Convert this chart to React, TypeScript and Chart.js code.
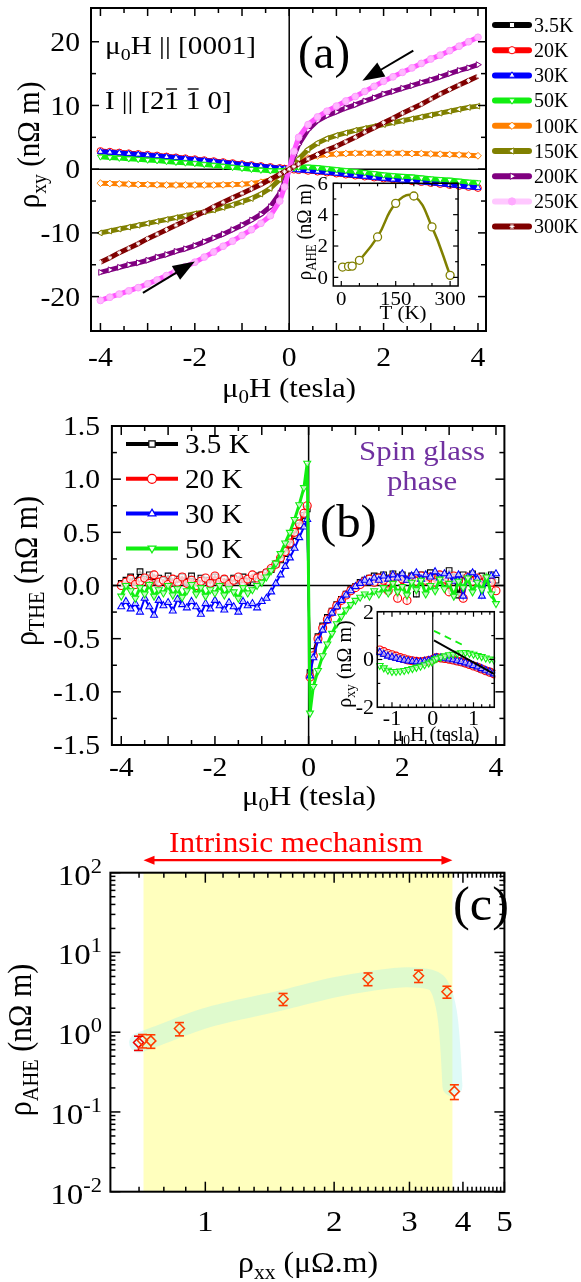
import React, { useEffect, useRef } from "react";
import { Chart, registerables } from "chart.js";

Chart.register(...registerables);

const PAGE_W = 581;
const PAGE_H = 1282;
const SERIF = '"Liberation Serif", "Times New Roman", serif';

/* ---------------- panel (a): rho_xy vs field ---------------- */
const H_A = [
  -4.0, -3.8, -3.6, -3.4, -3.2, -3.0, -2.8, -2.6, -2.4, -2.2,
  -2.0, -1.8, -1.6, -1.4, -1.2, -1.0, -0.8, -0.6, -0.4, -0.2,
  -0.1, 0, 0.1,
  0.2, 0.4, 0.6, 0.8, 1.0, 1.2, 1.4, 1.6, 1.8, 2.0,
  2.2, 2.4, 2.6, 2.8, 3.0, 3.2, 3.4, 3.6, 3.8, 4.0,
];
const RHO_A_3K5 = [
  2.8, 2.7, 2.6, 2.45, 2.35, 2.2, 2.1, 1.95, 1.8, 1.65,
  1.5, 1.35, 1.2, 1.05, 0.9, 0.75, 0.6, 0.45, 0.3, 0.15,
  0.08, 0, -0.08,
  -0.15, -0.25, -0.36, -0.5, -0.66, -0.82, -0.98, -1.13, -1.28, -1.43,
  -1.58, -1.72, -1.86, -2.0, -2.14, -2.3, -2.45, -2.6, -2.75, -2.9,
];
const RHO_A_20K = [
  2.85, 2.75, 2.62, 2.5, 2.4, 2.27, 2.15, 2.0, 1.86, 1.72,
  1.57, 1.42, 1.27, 1.12, 0.96, 0.8, 0.65, 0.5, 0.35, 0.2,
  0.1, 0, -0.08,
  -0.16, -0.27, -0.39, -0.54, -0.7, -0.86, -1.02, -1.17, -1.32, -1.48,
  -1.62, -1.76, -1.9, -2.04, -2.18, -2.34, -2.5, -2.65, -2.8, -2.96,
];
const RHO_A_30K = [
  2.75, 2.65, 2.55, 2.44, 2.32, 2.2, 2.06, 1.94, 1.8, 1.65,
  1.5, 1.35, 1.2, 1.05, 0.9, 0.74, 0.6, 0.45, 0.3, 0.15,
  0.07, 0, -0.05,
  -0.12, -0.22, -0.35, -0.5, -0.66, -0.82, -0.98, -1.14, -1.3, -1.46,
  -1.6, -1.74, -1.88, -2.0, -2.14, -2.3, -2.45, -2.6, -2.75, -2.9,
];
const RHO_A_50K = [
  1.95, 1.85, 1.75, 1.65, 1.55, 1.45, 1.35, 1.22, 1.1, 1.0,
  0.9, 0.75, 0.6, 0.45, 0.3, 0.15, 0.0, -0.13, -0.23, -0.25,
  -0.15, 0, 0.2,
  0.35, 0.35, 0.25, 0.1, -0.05, -0.2, -0.35, -0.5, -0.68, -0.88,
  -1.0, -1.1, -1.2, -1.35, -1.5, -1.6, -1.7, -1.85, -2.0, -2.1,
];
const RHO_A_100K = [
  -2.2, -2.25, -2.3, -2.35, -2.4, -2.42, -2.45, -2.5, -2.5, -2.5,
  -2.5, -2.5, -2.5, -2.45, -2.4, -2.35, -2.25, -2.05, -1.7, -1.0,
  -0.5, 0, 0.5,
  1.0, 1.75, 2.1, 2.3, 2.4, 2.45, 2.5, 2.5, 2.5, 2.5,
  2.5, 2.5, 2.45, 2.45, 2.4, 2.35, 2.3, 2.25, 2.2, 2.1,
];
const RHO_A_150K = [
  -10.0, -9.7, -9.4, -9.1, -8.8, -8.5, -8.2, -7.9, -7.6, -7.3,
  -7.0, -6.7, -6.4, -6.0, -5.6, -5.1, -4.6, -3.9, -3.0, -1.6,
  -0.8, 0, 0.8,
  1.6, 3.1, 4.1, 4.8, 5.3, 5.7, 6.1, 6.4, 6.7, 7.0,
  7.3, 7.6, 7.9, 8.2, 8.5, 8.8, 9.1, 9.4, 9.7, 9.9,
];
const RHO_A_200K = [
  -16.2, -15.8, -15.4, -15.0, -14.7, -14.3, -13.8, -13.4, -12.9, -12.5,
  -12.0, -11.4, -10.8, -10.2, -9.5, -8.8, -8.0, -7.1, -5.9, -3.8,
  -2.1, 0, 2.1,
  3.9, 6.2, 7.6, 8.4, 9.0, 9.6, 10.1, 10.7, 11.2, 11.8,
  12.2, 12.7, 13.1, 13.6, 14.0, 14.5, 15.0, 15.5, 15.9, 16.4,
];
const RHO_A_250K = [
  -20.6, -20.1, -19.6, -19.1, -18.6, -18.0, -17.4, -16.7, -16.0, -15.3,
  -14.6, -13.8, -13.0, -12.1, -11.3, -10.4, -9.5, -8.5, -7.3, -5.0,
  -2.8, 0, 2.8,
  5.0, 7.0, 8.2, 9.1, 9.9, 10.7, 11.4, 12.2, 13.0, 13.8,
  14.5, 15.2, 15.9, 16.6, 17.3, 17.9, 18.6, 19.3, 20.0, 20.7,
];
const RHO_A_300K = [
  -14.6, -13.9, -13.1, -12.4, -11.7, -10.9, -10.2, -9.5, -8.8, -8.1,
  -7.4, -6.7, -5.9, -5.2, -4.5, -3.8, -3.1, -2.4, -1.6, -0.8,
  -0.4, 0, 0.4,
  0.8, 1.6, 2.3, 3.0, 3.6, 4.3, 5.0, 5.8, 6.5, 7.3,
  8.0, 8.8, 9.5, 10.2, 11.0, 11.8, 12.5, 13.2, 13.9, 14.6,
];
const LABELS_A = ["3.5K", "20K", "30K", "50K", "100K", "150K", "200K", "250K", "300K"];
const COLORS_A = ["#000000", "#ff0000", "#0000ff", "#11ee11", "#ff8000", "#808000", "#800080", "#ff55ff", "#800000"];
const LEGEND_COLORS_A = ["#000000", "#ff0000", "#0000ff", "#11ee11", "#ff8000", "#808000", "#800080", "#ffc8ff", "#800000"];
const MARKERS_A = ["rect", "circle", "triUp", "triDown", "diamond", "triLeft", "triRight", "circle", "star"];
const X_TICKS_A = [-4, -2, 0, 2, 4];
const Y_TICKS_A = [-20, -10, 0, 10, 20];
// annotation arrows (data coordinates): [fromH, fromRho, toH, toRho]
const ARROWS_A = [
  [2.63, 18.6, 1.55, 13.9],
  [-3.1, -19.4, -2.0, -14.5],
];

/* inset of (a): rho_AHE vs T */
const T_INSET = [3.5, 20, 30, 50, 100, 150, 200, 250, 300];
const RHO_AHE_T = [0.66, 0.7, 0.72, 1.09, 2.58, 4.72, 5.19, 3.22, 0.13];
const X_TICKS_AI = [0, 150, 300];
const Y_TICKS_AI = [0, 2, 4, 6];

/* ---------------- panel (b): rho_THE vs field ---------------- */
const H_B = [
  -4.0, -3.9, -3.8, -3.7, -3.6, -3.5, -3.4, -3.3, -3.2, -3.1,
  -3.0, -2.9, -2.8, -2.7, -2.6, -2.5, -2.4, -2.3, -2.2, -2.1,
  -2.0, -1.9, -1.8, -1.7, -1.6, -1.5, -1.4, -1.3, -1.2, -1.1,
  -1.0, -0.9, -0.8, -0.7, -0.6, -0.5, -0.4, -0.3, -0.2, -0.1,
  -0.03, 0.03,
  0.1, 0.2, 0.3, 0.4, 0.5, 0.6, 0.7, 0.8, 0.9, 1.0,
  1.1, 1.2, 1.3, 1.4, 1.5, 1.6, 1.7, 1.8, 1.9, 2.0,
  2.1, 2.2, 2.3, 2.4, 2.5, 2.6, 2.7, 2.8, 2.9, 3.0,
  3.1, 3.2, 3.3, 3.4, 3.5, 3.6, 3.7, 3.8, 3.9, 4.0,
];
const THE_3K5 = [
  0.02, 0.05, 0.08, 0.04, 0.13, 0.06, 0.1, 0.03, 0.07, 0.05,
  0.09, 0.02, 0.06, 0.08, 0.04, 0.09, 0.03, 0.07, 0.05, 0.02,
  0.08, 0.04, 0.06, 0.03, 0.07, 0.05, 0.08, 0.04, 0.06, 0.09,
  0.1, 0.12, 0.15, 0.2, 0.24, 0.3, 0.38, 0.47, 0.56, 0.66,
  0.72, -0.82,
  -0.62, -0.48, -0.38, -0.3, -0.24, -0.18, -0.13, -0.08, -0.04, -0.01,
  0.03, 0.05, 0.07, 0.09, 0.08, 0.1, 0.07, 0.11, 0.08, 0.1,
  0.06, 0.09, -0.08, 0.1, 0.07, 0.12, 0.08, 0.1, 0.06, 0.14,
  0.08, -0.09, 0.1, 0.07, 0.11, 0.06, 0.09, 0.07, 0.1, 0.05,
];
const THE_20K = [
  0.0, 0.03, 0.06, 0.01, 0.04, 0.07, 0.02, 0.1, 0.03, 0.05,
  0.01, 0.06, 0.03, 0.08, 0.02, 0.05, 0.0, 0.04, 0.07, 0.02,
  0.09, 0.03, 0.06, 0.01, 0.05, 0.08, 0.03, 0.06, 0.1, 0.07,
  0.09, 0.12, 0.16, 0.2, 0.26, 0.32, 0.4, 0.5, 0.58, 0.68,
  0.75, -0.86,
  -0.66, -0.5, -0.4, -0.32, -0.25, -0.19, -0.14, -0.09, -0.05, -0.02,
  0.01, 0.04, 0.06, 0.03, 0.07, 0.05, -0.05, 0.08, -0.12, 0.06,
  -0.14, 0.07, 0.04, 0.09, 0.05, 0.08, 0.03, 0.1, 0.06, -0.06,
  0.09, 0.05, -0.12, 0.08, 0.04, 0.07, 0.02, 0.06, 0.03, -0.05,
];
const THE_30K = [
  -0.2, -0.15, -0.22, -0.17, -0.25, -0.12, -0.2, -0.28, -0.14, -0.19,
  -0.16, -0.24, -0.13, -0.18, -0.21, -0.15, -0.2, -0.27, -0.17, -0.22,
  -0.14, -0.19, -0.23, -0.16, -0.2, -0.25, -0.15, -0.19, -0.17, -0.21,
  -0.15, -0.12, -0.06, 0.02, 0.1, 0.18, 0.26, 0.35, 0.45, 0.55,
  0.62, -0.85,
  -0.68, -0.52, -0.42, -0.33, -0.26, -0.2, -0.14, -0.09, -0.05, -0.01,
  0.02, 0.05, 0.03, 0.07, 0.05, 0.09, 0.06, 0.1, 0.07, 0.11,
  0.05, 0.09, 0.12, 0.06, 0.1, 0.08, 0.13, 0.07, 0.11, 0.09,
  0.04, 0.1, -0.1, 0.08, 0.12, 0.06, -0.1, 0.05, 0.09, 0.11,
];
const THE_50K = [
  -0.1, 0.0, -0.05, -0.12, -0.02, -0.08, 0.01, -0.1, -0.04, -0.07,
  0.0, -0.09, -0.03, -0.11, -0.05, 0.01, -0.08, -0.02, -0.1, -0.04,
  -0.07, 0.0, -0.09, -0.03, -0.06, -0.12, -0.02, -0.07, -0.04, 0.0,
  0.03, 0.08, 0.14, 0.21, 0.3, 0.4, 0.5, 0.62, 0.76, 0.92,
  1.15, -1.2,
  -0.95, -0.8, -0.66, -0.55, -0.45, -0.36, -0.29, -0.23, -0.18, -0.14,
  -0.11, -0.08, -0.1, -0.05, -0.08, -0.02, -0.07, 0.02, -0.06, -0.01,
  -0.09, 0.03, -0.04, 0.05, -0.08, 0.0, -0.05, 0.06, -0.03, 0.02,
  -0.1, 0.04, -0.02, 0.07, -0.06, 0.03, -0.04, 0.08, -0.08, -0.17,
];
const LABELS_B = ["3.5 K", "20 K", "30 K", "50 K"];
const COLORS_B = ["#000000", "#ff0000", "#0000ff", "#11ee11"];
const MARKERS_B = ["rect", "circle", "triUp", "triDown"];
const X_TICKS_B = [-4, -2, 0, 2, 4];
const Y_TICKS_B = [-1.5, -1, -0.5, 0, 0.5, 1, 1.5];

/* inset of (b): low-field rho_xy */
const H_BI = [
  -1.3, -1.2, -1.1, -1.0, -0.9, -0.8, -0.7, -0.6, -0.5, -0.4, -0.3, -0.2, -0.1, -0.02,
  0.05, 0.1, 0.2, 0.3, 0.4, 0.5, 0.6, 0.7, 0.8, 0.9, 1.0, 1.1, 1.2, 1.3, 1.4, 1.5,
];
const XY_I_3K5 = [0.32, 0.26, 0.2, 0.14, 0.09, 0.05, 0.01, -0.03, -0.06, -0.08, -0.09, -0.07, -0.03, 0.0,
  0.05, 0.07, 0.05, 0.03, 0.0, -0.03, -0.07, -0.11, -0.15, -0.2, -0.26, -0.32, -0.4, -0.46, -0.52, -0.58];
const XY_I_20K = [0.4, 0.33, 0.25, 0.2, 0.14, 0.08, 0.03, -0.02, -0.05, -0.08, -0.1, -0.08, -0.04, -0.01,
  0.04, 0.08, 0.06, 0.04, 0.01, -0.02, -0.06, -0.1, -0.15, -0.21, -0.27, -0.33, -0.4, -0.47, -0.53, -0.6];
const XY_I_30K = [0.3, 0.22, 0.14, 0.1, 0.05, 0.0, -0.03, -0.06, -0.08, -0.1, -0.1, -0.07, -0.04, 0.0,
  0.06, 0.08, 0.07, 0.05, 0.02, -0.01, -0.05, -0.09, -0.14, -0.19, -0.25, -0.31, -0.38, -0.45, -0.52, -0.6];
const XY_I_50K = [-0.25, -0.35, -0.45, -0.5, -0.5, -0.48, -0.46, -0.42, -0.38, -0.33, -0.28, -0.22, -0.15, -0.1,
  0.0, 0.05, 0.1, 0.15, 0.2, 0.22, 0.26, 0.28, 0.29, 0.26, 0.22, 0.17, 0.12, 0.06, 0.02, -0.02];
const FIT_3K5_H = [0.03, 1.5];
const FIT_3K5_V = [0.8, -0.6];
const FIT_50K_H = [0.03, 0.72];
const FIT_50K_V = [1.2, 0.62];
const X_TICKS_BI = [-1, 0, 1];
const Y_TICKS_BI = [-2, 0, 2];

/* ---------------- panel (c): rho_AHE vs rho_xx ---------------- */
const RHO_XX = [0.698, 0.713, 0.746, 0.87, 1.52, 2.4, 3.15, 3.67, 3.82];
const RHO_AHE = [0.741, 0.785, 0.778, 1.11, 2.61, 4.68, 5.1, 3.22, 0.181];
const RHO_AHE_ERR = [0.15, 0.15, 0.15, 0.21, 0.45, 0.85, 0.9, 0.55, 0.038];
const BAND_X = [0.7, 0.764, 1.0, 1.52, 2.0, 2.43, 2.96, 3.34, 3.58, 3.69, 3.745, 3.78];
const BAND_Y = [0.74, 0.88, 1.5, 2.53, 3.65, 4.38, 4.9, 4.6, 3.07, 1.43, 0.546, 0.209];
const INTRINSIC_RANGE = [0.717, 3.78];
const X_TICKS_C = [1, 2, 3, 4, 5];
const Y_EXP_C = [-2, -1, 0, 1, 2];

/* ---------------- drawing helpers ---------------- */
type Seg = { t: string; k?: "sub" | "sup" | "bar" };
const T = (t: string): Seg => ({ t });
const SUB = (t: string): Seg => ({ t, k: "sub" });
const SUP = (t: string): Seg => ({ t, k: "sup" });
const BAR = (t: string): Seg => ({ t, k: "bar" });
const font = (s: number) => `${s}px ${SERIF}`;

function rich(ctx: any, segs: Seg[], x: number, y: number, size: number, opt: any = {}) {
  const sx = opt.sx ?? 1.1;
  const ss = opt.ss ?? 0.68;
  ctx.save();
  ctx.translate(x, y);
  if (opt.rot) {
    ctx.rotate(-Math.PI / 2);
    ctx.scale(1, sx);
  } else ctx.scale(sx, 1);
  ctx.fillStyle = opt.color ?? "#000";
  ctx.strokeStyle = opt.color ?? "#000";
  ctx.textBaseline = "alphabetic";
  ctx.textAlign = "left";
  const sizes = segs.map((s) => (s.k === "sub" || s.k === "sup" ? size * ss : size));
  const widths = segs.map((s, i) => {
    ctx.font = font(sizes[i]);
    return ctx.measureText(s.t).width;
  });
  const total = widths.reduce((a, b) => a + b, 0);
  let cx = opt.align === "center" ? -total / 2 : opt.align === "right" ? -total : 0;
  const base = opt.mid ? size * 0.34 : 0;
  segs.forEach((s, i) => {
    ctx.font = font(sizes[i]);
    let dy = base;
    if (s.k === "sub") dy += size * 0.22;
    if (s.k === "sup") dy -= size * 0.4;
    ctx.fillText(s.t, cx, dy);
    if (s.k === "bar") {
      ctx.lineWidth = size * 0.055;
      ctx.beginPath();
      ctx.moveTo(cx + widths[i] * 0.12, base - size * 0.8);
      ctx.lineTo(cx + widths[i] * 0.88, base - size * 0.8);
      ctx.stroke();
    }
    cx += widths[i];
  });
  ctx.restore();
}

function seg(ctx: any, x1: number, y1: number, x2: number, y2: number) {
  ctx.beginPath();
  ctx.moveTo(x1, y1);
  ctx.lineTo(x2, y2);
  ctx.stroke();
}

function arrowHead(ctx: any, x1: number, y1: number, x2: number, y2: number, head: number, half: number, lw: number) {
  const ang = Math.atan2(y2 - y1, x2 - x1);
  const bx = x2 - Math.cos(ang) * head;
  const by = y2 - Math.sin(ang) * head;
  ctx.lineWidth = lw;
  seg(ctx, x1, y1, bx + Math.cos(ang) * 2, by + Math.sin(ang) * 2);
  ctx.beginPath();
  ctx.moveTo(x2, y2);
  ctx.lineTo(bx + Math.sin(ang) * half, by - Math.cos(ang) * half);
  ctx.lineTo(bx - Math.sin(ang) * half, by + Math.cos(ang) * half);
  ctx.closePath();
  ctx.fill();
}

const TRI_ROT: any = { triUp: 0, triDown: 180, triLeft: 270, triRight: 90 };
const PS: any = {
  rect: "rect", circle: "circle", triUp: "triangle", triDown: "triangle",
  triLeft: "triangle", triRight: "triangle", diamond: "rectRot", star: "star",
};

function drawMarker(ctx: any, kind: string, x: number, y: number, r: number, fill: string, stroke: string, lw: number) {
  ctx.save();
  ctx.beginPath();
  if (kind === "rect") {
    const s = r * Math.SQRT1_2;
    ctx.rect(x - s, y - s, 2 * s, 2 * s);
  } else if (kind === "circle") ctx.arc(x, y, r, 0, Math.PI * 2);
  else if (kind === "diamond") {
    ctx.moveTo(x, y - r); ctx.lineTo(x + r, y); ctx.lineTo(x, y + r); ctx.lineTo(x - r, y); ctx.closePath();
  } else if (kind === "star") {
    for (let k = 0; k < 4; k++) {
      const an = (k * Math.PI) / 4;
      ctx.moveTo(x - Math.cos(an) * r, y - Math.sin(an) * r);
      ctx.lineTo(x + Math.cos(an) * r, y + Math.sin(an) * r);
    }
  } else {
    let rad = (TRI_ROT[kind] * Math.PI) / 180;
    ctx.moveTo(x + Math.sin(rad) * r, y - Math.cos(rad) * r);
    for (let k = 0; k < 2; k++) {
      rad += (2 * Math.PI) / 3;
      ctx.lineTo(x + Math.sin(rad) * r, y - Math.cos(rad) * r);
    }
    ctx.closePath();
  }
  if (kind !== "star") {
    ctx.fillStyle = fill;
    ctx.fill();
  }
  ctx.strokeStyle = stroke;
  ctx.lineWidth = lw;
  ctx.stroke();
  ctx.restore();
}

function steps(a: number, b: number, st: number) {
  const out: number[] = [];
  for (let v = a; v <= b + 1e-9; v += st) out.push(Math.round(v * 1000) / 1000);
  return out;
}

function frame(chart: any, xMaj: number[], xMin: number[], yMaj: number[], yMin: number[], lMaj: number, lMin: number, bw: number, tw: number) {
  const { ctx, chartArea: a } = chart;
  const xs = chart.scales.x;
  const ys = chart.scales.y;
  ctx.save();
  ctx.strokeStyle = "#000";
  ctx.lineWidth = tw;
  const xt = (vals: number[], len: number) =>
    vals.forEach((v) => {
      const p = xs.getPixelForValue(v);
      seg(ctx, p, a.bottom, p, a.bottom - len);
      seg(ctx, p, a.top, p, a.top + len);
    });
  const yt = (vals: number[], len: number) =>
    vals.forEach((v) => {
      const p = ys.getPixelForValue(v);
      seg(ctx, a.left, p, a.left + len, p);
      seg(ctx, a.right, p, a.right - len, p);
    });
  xt(xMaj, lMaj); xt(xMin, lMin); yt(yMaj, lMaj); yt(yMin, lMin);
  ctx.lineWidth = bw;
  ctx.strokeRect(a.left, a.top, a.right - a.left, a.bottom - a.top);
  ctx.restore();
}

function zeroLines(chart: any, doX: boolean, doY: boolean, lw: number) {
  const { ctx, chartArea: a } = chart;
  ctx.save();
  ctx.strokeStyle = "#000";
  ctx.lineWidth = lw;
  if (doX) {
    const p = chart.scales.x.getPixelForValue(0);
    seg(ctx, p, a.top, p, a.bottom);
  }
  if (doY) {
    const p = chart.scales.y.getPixelForValue(0);
    seg(ctx, a.left, p, a.right, p);
  }
  ctx.restore();
}

const pad = (L: number, Tp: number, R: number, B: number) => ({ left: L, top: Tp, right: PAGE_W - R, bottom: PAGE_H - B });

function baseOptions(padding: any, xs: any, ys: any) {
  return {
    responsive: false,
    animation: false,
    events: [],
    layout: { padding },
    plugins: { legend: { display: false }, tooltip: { enabled: false }, title: { display: false } },
    scales: { x: { ...xs, display: false }, y: { ...ys, display: false } },
  };
}

const pts = (xs: number[], ys: number[]) => xs.map((x, i) => ({ x, y: ys[i] }));

/* ---------------- chart configs ---------------- */
function configA() {
  const series = [RHO_A_3K5, RHO_A_20K, RHO_A_30K, RHO_A_50K, RHO_A_100K, RHO_A_150K, RHO_A_200K, RHO_A_250K, RHO_A_300K];
  const datasets = series.map((vals, i) => {
    const kind = MARKERS_A[i];
    const fill = i === 7 ? "#ffb8ff" : "#ffffff";
    const stroke = i === 7 ? "#ff99ff" : i === 8 ? "#ffffff" : COLORS_A[i];
    return {
      data: pts(H_A, vals),
      showLine: true,
      borderColor: COLORS_A[i],
      borderWidth: 5,
      pointStyle: PS[kind],
      pointRotation: TRI_ROT[kind] ?? 0,
      pointRadius: i === 8 ? 2.2 : 3.4,
      pointBackgroundColor: fill,
      pointBorderColor: stroke,
      pointBorderWidth: 1,
      order: -i,
      clip: 4,
    };
  });
  const plugin = {
    id: "panelA",
    beforeDatasetsDraw(chart: any) {
      zeroLines(chart, true, true, 1.5);
    },
    afterDatasetsDraw(chart: any) {
      const { ctx } = chart;
      const xs = chart.scales.x;
      const ys = chart.scales.y;
      frame(chart, steps(-4, 4, 1), steps(-3.5, 3.5, 1), Y_TICKS_A, [-15, -5, 5, 15], 8, 5, 2, 1.5);
      Y_TICKS_A.forEach((v) => rich(ctx, [T(String(v))], 80, ys.getPixelForValue(v), 27, { align: "right", mid: true }));
      X_TICKS_A.forEach((v) => rich(ctx, [T(String(v))], xs.getPixelForValue(v), 357, 27, { align: "center", mid: true }));
      rich(ctx, [T("μ"), SUB("0"), T("H (tesla)")], 289, 397, 28, { align: "center" });
      rich(ctx, [T("ρ"), SUB("xy"), T(" (nΩ m)")], 39, 145, 29, { align: "center", rot: true });
      rich(ctx, [T("μ"), SUB("0"), T("H || [0001]")], 105, 54, 25, { sx: 1.17 });
      rich(ctx, [T("I || [2"), BAR("1"), T(" "), BAR("1"), T(" 0]")], 105, 109, 25, { sx: 1.15 });
      rich(ctx, [T("(a)")], 298, 68, 46, { sx: 1.02 });
      ctx.save();
      ctx.fillStyle = "#000";
      ctx.strokeStyle = "#000";
      ARROWS_A.forEach((a) => {
        arrowHead(ctx, xs.getPixelForValue(a[0]), ys.getPixelForValue(a[1]), xs.getPixelForValue(a[2]), ys.getPixelForValue(a[3]), 22, 8, 2);
      });
      ctx.restore();
      // legend
      LABELS_A.forEach((lab, i) => {
        const y = 25 + 25.2 * i;
        ctx.save();
        ctx.strokeStyle = LEGEND_COLORS_A[i];
        ctx.lineWidth = 6;
        ctx.lineCap = "round";
        seg(ctx, 495, y, 529, y);
        ctx.restore();
        const kind = MARKERS_A[i];
        const fill = i === 7 ? "#ffaaff" : "#ffffff";
        const stroke = i === 7 ? "#ffaaff" : i === 8 ? "#ffffff" : LEGEND_COLORS_A[i];
        drawMarker(ctx, kind, 512, y, i === 8 ? 2.5 : 3.6, fill, stroke, 1);
        rich(ctx, [T(lab)], 534, y, 20, { mid: true, sx: 1.0 });
      });
    },
  };
  return {
    type: "scatter",
    data: { datasets },
    options: baseOptions(pad(91, 8, 486, 331), { type: "linear", min: -4.2, max: 4.17 }, { type: "linear", min: -25.4, max: 25.3 }),
    plugins: [plugin],
  };
}

function configAInset() {
  const plugin = {
    id: "insetA",
    afterDatasetsDraw(chart: any) {
      const { ctx } = chart;
      const xs = chart.scales.x;
      const ys = chart.scales.y;
      frame(chart, X_TICKS_AI, [50, 100, 200, 250], Y_TICKS_AI, [1, 3, 5], 5, 3, 1.5, 1.2);
      Y_TICKS_AI.forEach((v) => rich(ctx, [T(String(v))], 328, ys.getPixelForValue(v), 19, { align: "right", mid: true }));
      X_TICKS_AI.forEach((v) => rich(ctx, [T(String(v))], xs.getPixelForValue(v), 299, 19, { align: "center", mid: true }));
      rich(ctx, [T("T (K)")], 403, 319, 19, { align: "center" });
      rich(ctx, [T("ρ"), SUB("AHE"), T(" (nΩ m)")], 311, 232, 19, { align: "center", rot: true });
    },
  };
  return {
    type: "scatter",
    data: {
      datasets: [
        {
          data: pts(T_INSET, RHO_AHE_T),
          showLine: true,
          tension: 0.45,
          borderColor: "#808000",
          borderWidth: 2.5,
          pointRadius: 4,
          pointBackgroundColor: "#ffffff",
          pointBorderColor: "#808000",
          pointBorderWidth: 1.3,
          clip: 6,
        },
      ],
    },
    options: baseOptions(pad(333.3, 183.3, 458.1, 286), { type: "linear", min: -22, max: 322 }, { type: "linear", min: -0.55, max: 6 }),
    plugins: [plugin],
  };
}

function configB() {
  const series = [THE_3K5, THE_20K, THE_30K, THE_50K];
  const datasets = series.map((vals, i) => {
    const kind = MARKERS_B[i];
    return {
      data: pts(H_B, vals),
      showLine: true,
      borderColor: COLORS_B[i],
      borderWidth: i === 3 ? 3 : 2,
      pointStyle: PS[kind],
      pointRotation: TRI_ROT[kind] ?? 0,
      pointRadius: 4,
      pointBackgroundColor: "rgba(255,255,255,0.75)",
      pointBorderColor: COLORS_B[i],
      pointBorderWidth: 1.1,
      order: -i,
      clip: 3,
    };
  });
  const plugin = {
    id: "panelB",
    beforeDatasetsDraw(chart: any) {
      zeroLines(chart, true, true, 1.5);
    },
    afterDatasetsDraw(chart: any) {
      const { ctx } = chart;
      const xs = chart.scales.x;
      const ys = chart.scales.y;
      frame(chart, steps(-4, 4, 1), steps(-3.5, 3.5, 1), Y_TICKS_B, [-1.25, -0.75, -0.25, 0.25, 0.75, 1.25], 9, 5, 2, 1.5);
      Y_TICKS_B.forEach((v) => rich(ctx, [T(v.toFixed(1))], 100, ys.getPixelForValue(v), 27, { align: "right", mid: true }));
      X_TICKS_B.forEach((v) => rich(ctx, [T(String(v))], xs.getPixelForValue(v), 767, 27, { align: "center", mid: true }));
      rich(ctx, [T("μ"), SUB("0"), T("H (tesla)")], 309, 805, 28, { align: "center" });
      rich(ctx, [T("ρ"), SUB("THE"), T(" (nΩ m)")], 37, 571, 30, { align: "center", rot: true });
      rich(ctx, [T("(b)")], 320, 537, 46, { sx: 1.06 });
      rich(ctx, [T("Spin glass")], 422, 460, 28, { align: "center", color: "#7030a0" });
      rich(ctx, [T("phase")], 422, 490, 28, { align: "center", color: "#7030a0" });
      LABELS_B.forEach((lab, i) => {
        const y = 444 + 34.8 * i;
        ctx.save();
        ctx.strokeStyle = COLORS_B[i];
        ctx.lineWidth = 4;
        seg(ctx, 126, y, 178, y);
        ctx.restore();
        drawMarker(ctx, MARKERS_B[i], 152, y, 4.5, "#ffffff", COLORS_B[i], 1.2);
        rich(ctx, [T(lab)], 185, y, 27, { mid: true, sx: 1.08 });
      });
    },
  };
  return {
    type: "scatter",
    data: { datasets },
    options: baseOptions(pad(111.9, 426, 504.4, 745), { type: "linear", min: -4.2, max: 4.18 }, { type: "linear", min: -1.5, max: 1.5 }),
    plugins: [plugin],
  };
}

function configBInset() {
  const series = [XY_I_3K5, XY_I_20K, XY_I_30K, XY_I_50K];
  const datasets: any[] = series.map((vals, i) => {
    const kind = MARKERS_B[i];
    return {
      data: pts(H_BI, vals),
      showLine: true,
      borderColor: COLORS_B[i],
      borderWidth: 1.5,
      pointStyle: PS[kind],
      pointRotation: TRI_ROT[kind] ?? 0,
      pointRadius: 4,
      pointBackgroundColor: "rgba(255,255,255,0.6)",
      pointBorderColor: COLORS_B[i],
      pointBorderWidth: 1.1,
      order: -i,
      clip: 1,
    };
  });
  datasets.push({
    data: pts(FIT_3K5_H, FIT_3K5_V),
    showLine: true,
    borderColor: "#000000",
    borderWidth: 1.8,
    pointRadius: 0,
    order: -10,
    clip: 1,
  });
  datasets.push({
    data: pts(FIT_50K_H, FIT_50K_V),
    showLine: true,
    borderColor: "#11ee11",
    borderWidth: 1.8,
    borderDash: [7, 5],
    pointRadius: 0,
    order: -11,
    clip: 1,
  });
  const plugin = {
    id: "insetB",
    beforeDatasetsDraw(chart: any) {
      zeroLines(chart, true, false, 1.2);
    },
    afterDatasetsDraw(chart: any) {
      const { ctx } = chart;
      const xs = chart.scales.x;
      const ys = chart.scales.y;
      frame(chart, X_TICKS_BI, [-1.2, -0.8, -0.6, -0.4, -0.2, 0.2, 0.4, 0.6, 0.8, 1.2, 1.4], Y_TICKS_BI, [-1, 1], 5, 3, 1.5, 1.2);
      Y_TICKS_BI.forEach((v) => rich(ctx, [T(String(v))], 374, ys.getPixelForValue(v), 20, { align: "right", mid: true }));
      X_TICKS_BI.forEach((v) => rich(ctx, [T(String(v))], xs.getPixelForValue(v), 718, 20, { align: "center", mid: true }));
      rich(ctx, [T("μ"), SUB("0"), T("H (tesla)")], 436, 741, 20, { align: "center", sx: 1.0 });
      rich(ctx, [T("ρ"), SUB("xy"), T(" (nΩ m)")], 351, 664, 20, { align: "center", rot: true, sx: 1.0 });
    },
  };
  return {
    type: "scatter",
    data: { datasets },
    options: baseOptions(pad(377.3, 611.7, 494.3, 707.3), { type: "linear", min: -1.36, max: 1.51 }, { type: "linear", min: -2, max: 2 }),
    plugins: [plugin],
  };
}

function configC() {
  const markColors = RHO_XX.map((_, i) => (i === 0 ? "#ee0000" : "#ff3d00"));
  const plugin = {
    id: "panelC",
    beforeDatasetsDraw(chart: any) {
      const { ctx, chartArea: a } = chart;
      const xs = chart.scales.x;
      ctx.save();
      ctx.fillStyle = "#ffffbe";
      const x1 = xs.getPixelForValue(INTRINSIC_RANGE[0]);
      const x2 = xs.getPixelForValue(INTRINSIC_RANGE[1]);
      ctx.fillRect(x1, a.top, x2 - x1, a.bottom - a.top);
      ctx.restore();
    },
    afterDatasetsDraw(chart: any) {
      const { ctx, chartArea: a } = chart;
      const xs = chart.scales.x;
      const ys = chart.scales.y;
      // error bars
      ctx.save();
      ctx.lineWidth = 1.6;
      RHO_XX.forEach((xv, i) => {
        const px = xs.getPixelForValue(xv);
        const py = ys.getPixelForValue(RHO_AHE[i]);
        const pt = ys.getPixelForValue(RHO_AHE[i] + RHO_AHE_ERR[i]);
        const pb = ys.getPixelForValue(RHO_AHE[i] - RHO_AHE_ERR[i]);
        ctx.strokeStyle = markColors[i];
        seg(ctx, px, pt, px, py - 5);
        seg(ctx, px, py + 5, px, pb);
        seg(ctx, px - 4.5, pt, px + 4.5, pt);
        seg(ctx, px - 4.5, pb, px + 4.5, pb);
      });
      ctx.restore();
      const xMin = steps(0.7, 4.9, 0.1).filter((v) => Math.abs(v - Math.round(v)) > 1e-6);
      const yMaj = Y_EXP_C.map((e) => Math.pow(10, e));
      const yMin: number[] = [];
      for (let e = -2; e < 2; e++) for (let k = 2; k <= 9; k++) yMin.push(k * Math.pow(10, e));
      frame(chart, X_TICKS_C, xMin, yMaj, yMin, 10, 5, 2, 1.5);
      Y_EXP_C.forEach((e) => {
        const py = ys.getPixelForValue(Math.pow(10, e));
        rich(ctx, [T("10"), SUP(String(e))], 102, py + 12, 30, { align: "right", ss: 0.68 });
      });
      X_TICKS_C.forEach((v) => rich(ctx, [T(String(v))], xs.getPixelForValue(v), 1221, 30, { align: "center", mid: true }));
      rich(ctx, [T("ρ"), SUB("xx"), T(" (μΩ.m)")], 308, 1272, 30, { align: "center", sx: 1.06 });
      rich(ctx, [T("ρ"), SUB("AHE"), T(" (nΩ m)")], 31, 1040, 30, { align: "center", rot: true });
      rich(ctx, [T("(c)")], 453, 920, 48, { sx: 1.05 });
      // intrinsic range arrow
      const x1 = xs.getPixelForValue(INTRINSIC_RANGE[0]);
      const x2 = xs.getPixelForValue(INTRINSIC_RANGE[1]);
      const ya = a.top - 12.5;
      const xm = (x1 + x2) / 2;
      ctx.save();
      ctx.strokeStyle = "#ff0000";
      ctx.fillStyle = "#ff0000";
      arrowHead(ctx, xm, ya, x1, ya, 11, 4.5, 2.2);
      arrowHead(ctx, xm, ya, x2, ya, 11, 4.5, 2.2);
      ctx.restore();
      rich(ctx, [T("Intrinsic mechanism")], xm - 2, 852, 30, { align: "center", color: "#ff0000", sx: 1.04 });
    },
  };
  return {
    type: "scatter",
    data: {
      datasets: [
        {
          data: pts(BAND_X, BAND_Y),
          showLine: true,
          cubicInterpolationMode: "monotone",
          borderColor: "rgba(165,240,232,0.36)",
          borderWidth: 20,
          borderCapStyle: "round",
          borderJoinStyle: "round",
          pointRadius: 0,
          order: 2,
          clip: false,
        },
        {
          data: pts(RHO_XX, RHO_AHE),
          showLine: false,
          pointStyle: "rectRot",
          pointRadius: 5,
          pointBackgroundColor: "rgba(255,255,255,0)",
          pointBorderColor: markColors,
          pointBorderWidth: 1.5,
          order: 1,
          clip: false,
        },
      ],
    },
    options: baseOptions(pad(110.4, 872.7, 504.4, 1191.7), { type: "logarithmic", min: 0.6, max: 5 }, { type: "logarithmic", min: 0.01, max: 100 }),
    plugins: [plugin],
  };
}

export default function App() {
  const rA = useRef<HTMLCanvasElement | null>(null);
  const rAI = useRef<HTMLCanvasElement | null>(null);
  const rB = useRef<HTMLCanvasElement | null>(null);
  const rBI = useRef<HTMLCanvasElement | null>(null);
  const rC = useRef<HTMLCanvasElement | null>(null);

  useEffect(() => {
    const pairs: any[] = [
      [rA, configA()],
      [rAI, configAInset()],
      [rB, configB()],
      [rBI, configBInset()],
      [rC, configC()],
    ];
    const charts = pairs.map(([r, cfg]) => new Chart(r.current as HTMLCanvasElement, cfg as any));
    return () => charts.forEach((c) => c.destroy());
  }, []);

  const cs: any = { position: "absolute", left: 0, top: 0, width: PAGE_W, height: PAGE_H };
  return (
    <div style={{ position: "absolute", left: 0, top: 0, width: PAGE_W, height: PAGE_H, background: "#ffffff", overflow: "hidden" }}>
      <canvas ref={rA} width={PAGE_W} height={PAGE_H} style={cs} />
      <canvas ref={rAI} width={PAGE_W} height={PAGE_H} style={cs} />
      <canvas ref={rB} width={PAGE_W} height={PAGE_H} style={cs} />
      <canvas ref={rBI} width={PAGE_W} height={PAGE_H} style={cs} />
      <canvas ref={rC} width={PAGE_W} height={PAGE_H} style={cs} />
    </div>
  );
}
